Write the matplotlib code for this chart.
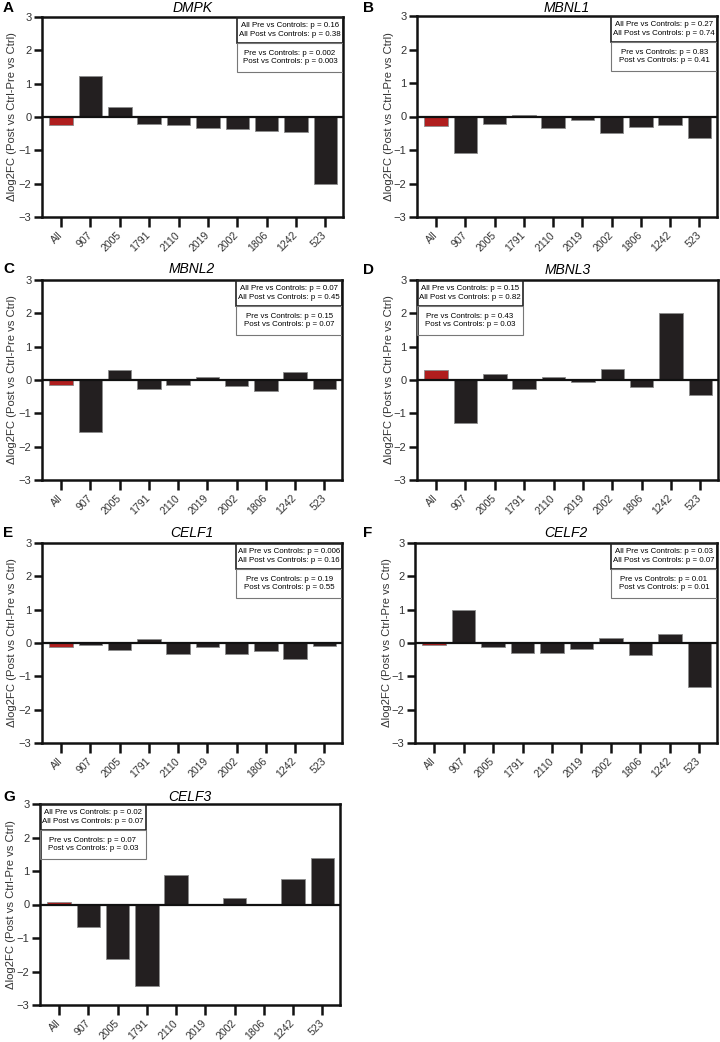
import numpy as np
import matplotlib
matplotlib.use("Agg")
import matplotlib.pyplot as plt
from matplotlib.patches import Rectangle

plt.rcParams['font.family'] = ['Liberation Sans', 'DejaVu Sans']

samples = ["All", "907", "2005", "1791", "2110", "2019", "2002", "1806", "1242", "523"]

dmpk = [-0.24, 1.24, 0.30, -0.22, -0.25, -0.32, -0.37, -0.42, -0.46, -2.01]
mbnl1 = [-0.27, -1.10, -0.22, 0.03, -0.34, -0.10, -0.48, -0.30, -0.24, -0.63]
mbnl2 = [-0.15, -1.57, 0.30, -0.27, -0.14, 0.10, -0.18, -0.32, 0.23, -0.27]
mbnl3 = [0.30, -1.29, 0.17, -0.27, 0.08, -0.05, 0.34, -0.22, 2.02, -0.46]
celf1 = [-0.13, -0.06, -0.21, 0.13, -0.32, -0.13, -0.34, -0.24, -0.47, -0.09]
celf2 = [-0.07, 1.00, -0.12, -0.30, -0.31, -0.18, 0.15, -0.36, 0.27, -1.31]
celf3 = [0.06, -0.67, -1.63, -2.42, 0.87, 0.0, 0.19, 0.0, 0.75, 1.38]

genes = ["DMPK", "MBNL1", "MBNL2", "MBNL3", "CELF1", "CELF2", "CELF3"]
letters = ["A", "B", "C", "D", "E", "F", "G"]
all_p = [("0.16", "0.38"), ("0.27", "0.74"), ("0.07", "0.45"), ("0.15", "0.82"),
         ("0.006", "0.16"), ("0.03", "0.07"), ("0.02", "0.07")]
sub_p = [("0.002", "0.003"), ("0.83", "0.41"), ("0.15", "0.07"), ("0.43", "0.03"),
         ("0.19", "0.55"), ("0.01", "0.01"), ("0.07", "0.03")]
box_side = ["right", "right", "right", "left", "right", "right", "left"]
values = [dmpk, mbnl1, mbnl2, mbnl3, celf1, celf2, celf3]

W, H = 720, 1042
fig = plt.figure(figsize=(W / 100, H / 100), dpi=100)

# axes rectangles in pixels: left, right, top, bottom
rects = [(42, 343, 17, 217), (417, 717, 16, 217),
         (42, 342, 280, 480), (417, 718, 280, 480),
         (42, 342, 543, 743), (415, 717, 543, 743),
         (40, 340, 804, 1005)]
# panel letter / title rows (pixel y of centre)
head_y = [8, 8, 269, 270, 533, 533, 797]
letter_x = [3, 363, 3, 363, 3, 363, 3]
ylab_x = [17, 394, 17, 394, 17, 392, 16]

x = np.arange(len(samples))
for i in range(7):
    l, r, t, b = rects[i]
    ax = fig.add_axes([l / W, 1 - b / H, (r - l) / W, (b - t) / H])
    cols = ['#b01e1e'] + ['#231f20'] * (len(samples) - 1)
    ax.bar(x, values[i], width=0.8, color=cols, edgecolor='#8c8c8c', linewidth=0.6, zorder=2)
    ax.axhline(0, color='#111111', lw=1.6, zorder=3)
    ax.set_xlim(-0.65, 9.6)
    ax.set_ylim(-3, 3)
    ax.set_yticks([-3, -2, -1, 0, 1, 2, 3])
    ax.set_xticks(x)
    ax.set_xticklabels(samples, rotation=45, ha='right', va='center', rotation_mode='anchor',
                       fontsize=7.6, color='#333333')
    ax.tick_params(axis='both', direction='out', width=1.8, length=6, color='#111111', pad=1.5)
    ax.tick_params(axis='y', labelsize=8, labelcolor='#333333')
    ax.tick_params(axis='x', length=7, pad=5)
    for s in ax.spines.values():
        s.set_linewidth(1.8)
        s.set_color('#111111')
    ax.set_ylabel('Δlog2FC (Post vs Ctrl-Pre vs Ctrl)', fontsize=8.1, color='#333333')
    ax.yaxis.set_label_coords((ylab_x[i] - l) / (r - l), 0.5)
    fig.text((l + r) / 2 / W, 1 - head_y[i] / H, genes[i], fontsize=10, style='italic',
             ha='center', va='center')
    fig.text(letter_x[i] / W, 1 - head_y[i] / H, letters[i], fontsize=11, fontweight='bold',
             ha='left', va='center')

    # p-value boxes
    bw = 0.352
    bx = 1 - bw if box_side[i] == 'right' else 0
    h1, h2 = 0.13, 0.145
    ax.add_patch(Rectangle((bx, 1 - h1), bw, h1, transform=ax.transAxes, fill=False,
                           edgecolor='#222222', lw=1.2, zorder=5))
    ax.add_patch(Rectangle((bx, 1 - h1 - h2), bw, h2, transform=ax.transAxes, fill=False,
                           edgecolor='#777777', lw=0.8, zorder=5))
    ax.text(bx + bw / 2, 1 - h1 / 2,
            'All Pre vs Controls: p = %s\nAll Post vs Controls: p = %s' % all_p[i],
            transform=ax.transAxes, ha='center', va='center', fontsize=5.7, linespacing=1.3)
    ax.text(bx + bw / 2, 1 - h1 - h2 / 2,
            'Pre vs Controls: p = %s\nPost vs Controls: p = %s' % sub_p[i],
            transform=ax.transAxes, ha='center', va='center', fontsize=5.7, linespacing=1.3)

fig.savefig('out.png', dpi=100)
